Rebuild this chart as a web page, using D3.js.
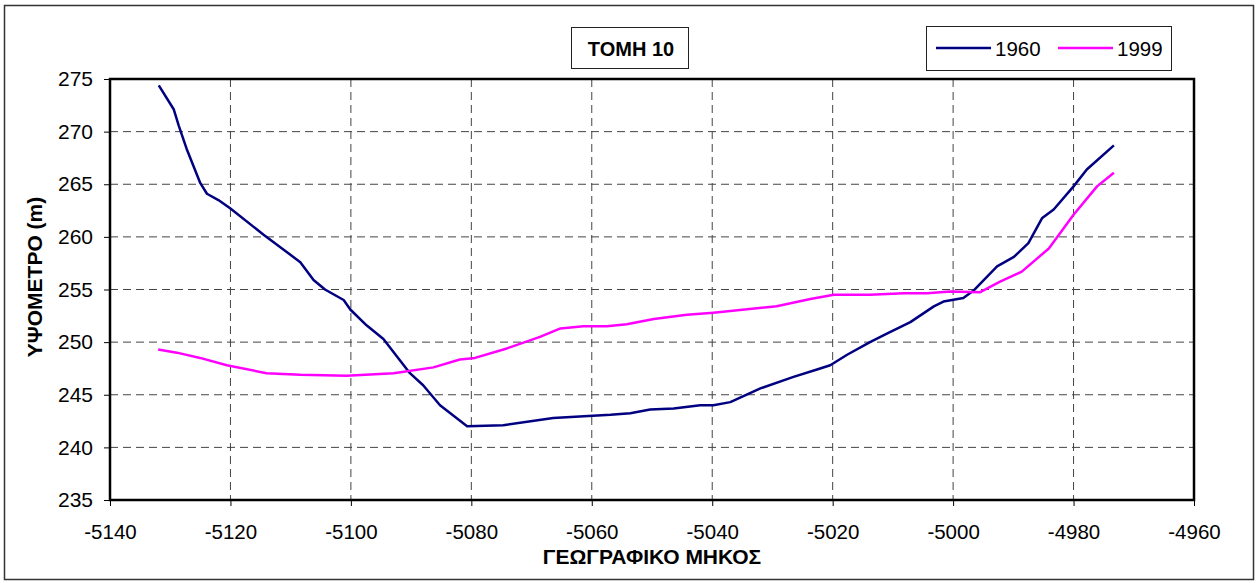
<!DOCTYPE html>
<html>
<head>
<meta charset="utf-8">
<script src="https://cdn.jsdelivr.net/npm/d3@7"></script>
<style>
    body { margin: 0; background: #fff; }
    svg { display: block; font-family: "Liberation Sans", Arial, sans-serif; }
    .grid line { stroke: #444; stroke-width: 1; stroke-dasharray: 8,5; }
    .axis path { display: none; }
    .axis line { stroke: #000; stroke-width: 1; }
    .axis text { font-size: 21px; fill: #000; }
    .x.axis text { font-size: 20.5px; }
</style>
</head>
<body>
<svg id="chart" width="1256" height="583"></svg>
<script>
// Data (ΤΟΜΗ 10)
var lon1960 = [-5131.9, -5129.4, -5128.6, -5127.3, -5125.0, -5123.9, -5122.0, -5120.0, -5114.5, -5108.4,
    -5106.2, -5104.3, -5101.2, -5100.1, -5097.4, -5094.6, -5090.2, -5088.0, -5085.2, -5080.7,
    -5074.7, -5066.4, -5056.9, -5053.6, -5050.3, -5046.4, -5042.0, -5039.8, -5037.0, -5032.0,
    -5026.5, -5022.6, -5020.4, -5017.6, -5013.8, -5011.0, -5007.1, -5003.2, -5001.6, -4998.3,
    -4996.6, -4992.7, -4989.9, -4987.5, -4985.2, -4983.3, -4980.0, -4977.8, -4973.3];
var elev1960 = [274.4, 272.1, 270.6, 268.4, 265.1, 264.1, 263.5, 262.7, 260.2, 257.6,
    255.9, 255.0, 254.0, 253.1, 251.6, 250.3, 247.05, 245.9, 244.0, 242.0,
    242.1, 242.8, 243.1, 243.25, 243.6, 243.7, 244.0, 244.0, 244.3, 245.6,
    246.7, 247.4, 247.8, 248.8, 250.0, 250.8, 251.9, 253.4, 253.85, 254.2,
    254.9, 257.2, 258.1, 259.4, 261.8, 262.6, 264.8, 266.4, 268.7];

var lon1999 = [-5132.0, -5128.9, -5125.05, -5120.6, -5114.0, -5108.4, -5100.7, -5092.9, -5086.3, -5081.9,
    -5079.4, -5074.1, -5068.6, -5065.2, -5061.4, -5057.5, -5054.2, -5049.7, -5044.2, -5039.8,
    -5029.3, -5023.7, -5019.8, -5013.8, -5008.2, -5004.3, -5000.5, -4995.5, -4992.2, -4988.6,
    -4984.1, -4980.0, -4976.1, -4973.3];
var elev1999 = [249.3, 249.0, 248.5, 247.8, 247.05, 246.9, 246.8, 247.05, 247.6, 248.35,
    248.5, 249.4, 250.5, 251.3, 251.5, 251.5, 251.7, 252.2, 252.6, 252.8,
    253.4, 254.1, 254.5, 254.5, 254.65, 254.65, 254.8, 254.75, 255.75, 256.7,
    258.9, 262.1, 264.8, 266.1];

var xTicks = [-5140, -5120, -5100, -5080, -5060, -5040, -5020, -5000, -4980, -4960];
var yTicks = [235, 240, 245, 250, 255, 260, 265, 270, 275];

var seriesNames = ["1960", "1999"];
var seriesColors = ["#000080", "#ff00ff"];

var chartTitle = "ΤΟΜΗ 10";
var xTitle = "ΓΕΩΓΡΑΦΙΚΟ ΜΗΚΟΣ";
var yTitle = "ΥΨΟΜΕΤΡΟ (m)";

// Dimensions
var plot = { left: 110, right: 1194, top: 79, bottom: 500 };

var svg = d3.select("#chart");

// outer frame
svg.append("rect")
    .attr("x", 4.5).attr("y", 5.5)
    .attr("width", 1249).attr("height", 574)
    .attr("fill", "#fff")
    .attr("stroke", "#333")
    .attr("stroke-width", 1.5);

var x = d3.scaleLinear().domain([-5140, -4960]).range([plot.left, plot.right]);
var y = d3.scaleLinear().domain([235, 275]).range([plot.bottom, plot.top]);

// grid lines
var grid = svg.append("g").attr("class", "grid");
grid.selectAll(".vx")
    .data(xTicks.slice(1, -1))
    .enter().append("line")
    .attr("x1", function(d) { return x(d); })
    .attr("x2", function(d) { return x(d); })
    .attr("y1", plot.top)
    .attr("y2", plot.bottom);
grid.selectAll(".hy")
    .data(yTicks.slice(1, -1))
    .enter().append("line")
    .attr("x1", plot.left)
    .attr("x2", plot.right)
    .attr("y1", function(d) { return y(d); })
    .attr("y2", function(d) { return y(d); });

// axes
var xAxis = svg.append("g")
    .attr("class", "x axis")
    .attr("transform", "translate(0," + plot.bottom + ")")
    .call(d3.axisBottom(x).tickValues(xTicks).tickSize(6).tickPadding(18).tickFormat(d3.format("d")));
xAxis.selectAll("text").text(function(d) { return "-" + Math.abs(d); });

svg.append("g")
    .attr("class", "y axis")
    .attr("transform", "translate(" + plot.left + ",0)")
    .call(d3.axisLeft(y).tickValues(yTicks).tickSize(6).tickPadding(11));

// plot frame
svg.append("rect")
    .attr("x", plot.left).attr("y", plot.top)
    .attr("width", plot.right - plot.left)
    .attr("height", plot.bottom - plot.top)
    .attr("fill", "none")
    .attr("stroke", "#000")
    .attr("stroke-width", 2.5);

// lines
var profile = d3.line()
    .x(function(d) { return x(d[0]); })
    .y(function(d) { return y(d[1]); });

var series = [d3.zip(lon1960, elev1960), d3.zip(lon1999, elev1999)];

svg.append("g").selectAll("path")
    .data(series)
    .enter().append("path")
    .attr("d", profile)
    .attr("fill", "none")
    .attr("stroke", function(d, i) { return seriesColors[i]; })
    .attr("stroke-width", 2.5)
    .attr("stroke-linejoin", "round");

// title box
svg.append("rect")
    .attr("x", 571.5).attr("y", 27.5)
    .attr("width", 117).attr("height", 41)
    .attr("fill", "#fff")
    .attr("stroke", "#222")
    .attr("stroke-width", 1);
svg.append("text")
    .attr("x", 631).attr("y", 56)
    .attr("text-anchor", "middle")
    .attr("font-size", "20px")
    .attr("font-weight", "bold")
    .text(chartTitle);

// legend
var legend = svg.append("g");
legend.append("rect")
    .attr("x", 926.5).attr("y", 26.5)
    .attr("width", 245).attr("height", 44)
    .attr("fill", "#fff")
    .attr("stroke", "#222")
    .attr("stroke-width", 1);
var legendX = [936, 1058];
seriesNames.forEach(function(name, i) {
    legend.append("line")
        .attr("x1", legendX[i]).attr("x2", legendX[i] + 55)
        .attr("y1", 48).attr("y2", 48)
        .attr("stroke", seriesColors[i])
        .attr("stroke-width", 2.5);
    legend.append("text")
        .attr("x", legendX[i] + 59).attr("y", 55.5)
        .attr("font-size", "20.5px")
        .text(name);
});

// axis titles
svg.append("text")
    .attr("x", (plot.left + plot.right) / 2)
    .attr("y", 564)
    .attr("text-anchor", "middle")
    .attr("font-size", "21px")
    .attr("font-weight", "bold")
    .text(xTitle);

svg.append("text")
    .attr("transform", "translate(42,277) rotate(-90)")
    .attr("text-anchor", "middle")
    .attr("font-size", "21px")
    .attr("font-weight", "bold")
    .text(yTitle);
</script>
</body>
</html>
